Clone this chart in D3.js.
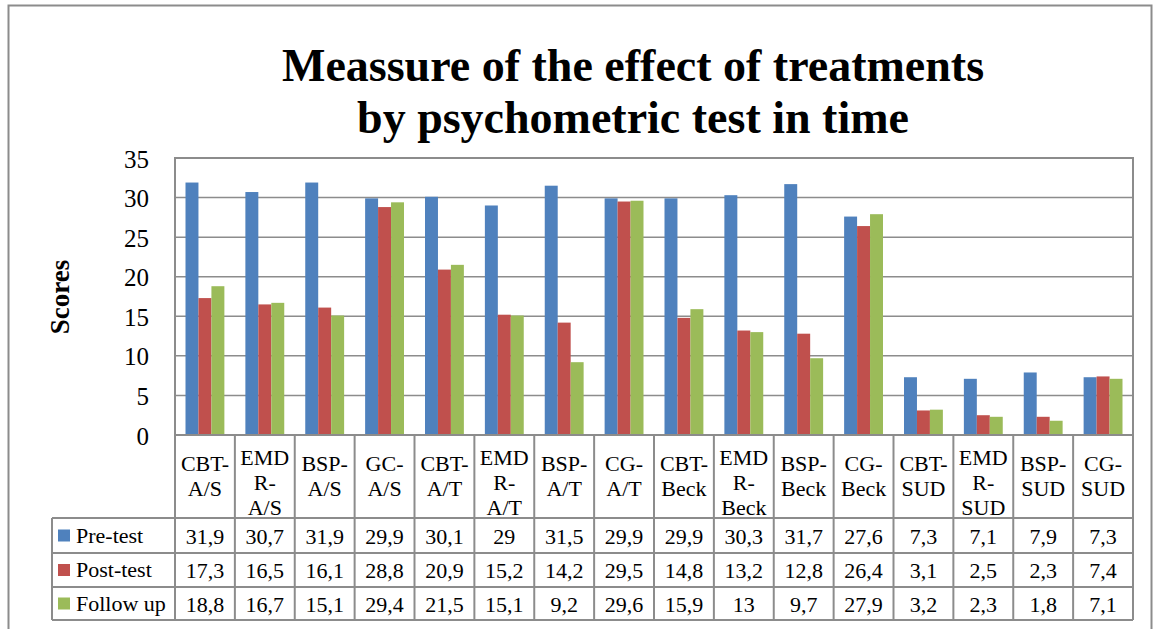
<!DOCTYPE html>
<html>
<head>
<meta charset="utf-8">
<script src="https://cdn.jsdelivr.net/npm/d3@7"></script>
<style>
  body { margin: 0; background: #fff; }
  svg { display: block; font-family: "Liberation Serif", "DejaVu Serif", serif; }
  .grid line { stroke: #8c8c8c; stroke-width: 1.5; }
  .tbl { stroke: #8c8c8c; stroke-width: 2; fill: none; }
</style>
</head>
<body>
<svg width="1155" height="629"></svg>
<script>
var categories = [
  ["CBT-", "A/S"], ["EMD", "R-", "A/S"], ["BSP-", "A/S"], ["GC-", "A/S"],
  ["CBT-", "A/T"], ["EMD", "R-", "A/T"], ["BSP-", "A/T"], ["CG-", "A/T"],
  ["CBT-", "Beck"], ["EMD", "R-", "Beck"], ["BSP-", "Beck"], ["CG-", "Beck"],
  ["CBT-", "SUD"], ["EMD", "R-", "SUD"], ["BSP-", "SUD"], ["CG-", "SUD"]
];
var seriesNames = ["Pre-test", "Post-test", "Follow up"];
var preTest = [31.9, 30.7, 31.9, 29.9, 30.1, 29, 31.5, 29.9, 29.9, 30.3, 31.7, 27.6, 7.3, 7.1, 7.9, 7.3];
var postTest = [17.3, 16.5, 16.1, 28.8, 20.9, 15.2, 14.2, 29.5, 14.8, 13.2, 12.8, 26.4, 3.1, 2.5, 2.3, 7.4];
var followUp = [18.8, 16.7, 15.1, 29.4, 21.5, 15.1, 9.2, 29.6, 15.9, 13, 9.7, 27.9, 3.2, 2.3, 1.8, 7.1];
var colors = ["#4f81bd", "#c0504d", "#9bbb59"];
var yTicks = [0, 5, 10, 15, 20, 25, 30, 35];

(function() {
var series = [preTest, postTest, followUp];
var keys = categories.map(function(c) { return c.join(""); });

var svg = d3.select("svg");
var left = 175, right = 1133, plotTop = 158, bottom = 435;
var rowTops = [518, 553, 587, 620];
var tableLeft = 52;

// outer border
svg.append("rect")
  .attr("x", 8.5).attr("y", 5.5)
  .attr("width", 1143).attr("height", 660)
  .attr("fill", "none").attr("stroke", "#8c8c8c").attr("stroke-width", 2);

// title
var title = svg.append("text")
  .attr("text-anchor", "middle")
  .attr("font-weight", "bold")
  .attr("font-size", 46);
title.append("tspan").attr("x", 633).attr("y", 81).text("Meassure of the effect of treatments");
title.append("tspan").attr("x", 633).attr("y", 133).text("by psychometric test in time");

var x0 = d3.scaleBand().domain(keys).range([left, right]);
var x1 = d3.scaleBand().domain(seriesNames).range([10.5, x0.bandwidth() - 10.5]);
var y = d3.scaleLinear().domain([0, 35]).range([bottom, plotTop]);

// gridlines
svg.append("g").attr("class", "grid")
  .selectAll("line").data(yTicks.slice(1))
  .enter().append("line")
  .attr("x1", left).attr("x2", right)
  .attr("y1", function(d) { return y(d); })
  .attr("y2", function(d) { return y(d); });

// y axis labels
var yAxis = d3.axisLeft(y).tickValues(yTicks).tickSize(0).tickPadding(26);
var ya = svg.append("g").attr("transform", "translate(" + left + ",0)").call(yAxis);
ya.select(".domain").remove();
ya.selectAll("text")
  .attr("font-family", "Liberation Serif, serif")
  .attr("font-size", 25)
  .attr("fill", "#000")
  .attr("dy", "0.36em");

svg.append("text")
  .attr("transform", "translate(69,297) rotate(-90)")
  .attr("text-anchor", "middle")
  .attr("font-weight", "bold")
  .attr("font-size", 27)
  .text("Scores");

// bars
var groups = svg.append("g").selectAll("g")
  .data(keys).enter().append("g")
  .attr("transform", function(d) { return "translate(" + x0(d) + ",0)"; });

groups.selectAll("rect")
  .data(function(d, i) {
    return seriesNames.map(function(s, j) { return { s: s, v: series[j][i], c: colors[j] }; });
  })
  .enter().append("rect")
  .attr("x", function(d) { return x1(d.s); })
  .attr("width", x1.bandwidth())
  .attr("y", function(d) { return y(d.v); })
  .attr("height", function(d) { return bottom - y(d.v); })
  .attr("fill", function(d) { return d.c; });

// plot border
svg.append("rect").attr("class", "tbl")
  .attr("x", left).attr("y", plotTop)
  .attr("width", right - left).attr("height", bottom - plotTop);

// table lines
var tbl = svg.append("g");
keys.forEach(function(k) {
  tbl.append("line").attr("class", "tbl")
    .attr("x1", x0(k) + x0.bandwidth()).attr("x2", x0(k) + x0.bandwidth())
    .attr("y1", bottom).attr("y2", rowTops[3]);
});
tbl.append("line").attr("class", "tbl")
  .attr("x1", left).attr("x2", left).attr("y1", bottom).attr("y2", rowTops[3]);
tbl.append("line").attr("class", "tbl")
  .attr("x1", tableLeft).attr("x2", tableLeft).attr("y1", rowTops[0]).attr("y2", rowTops[3]);
rowTops.forEach(function(ry) {
  tbl.append("line").attr("class", "tbl")
    .attr("x1", tableLeft).attr("x2", right).attr("y1", ry).attr("y2", ry);
});

// category labels
var lineH = 25;
groups.append("text")
  .attr("text-anchor", "middle")
  .attr("font-size", 22)
  .each(function(d, i) {
    var lines = categories[i];
    var t = d3.select(this);
    var mid = lines.length === 3 ? 483 : 476;
    var start = mid - (lines.length - 1) * lineH / 2 + 7;
    lines.forEach(function(l, j) {
      t.append("tspan").attr("x", x0.bandwidth() / 2).attr("y", start + j * lineH).text(l);
    });
  });

// table values
var fmt = function(v) { return String(v).replace(".", ","); };
series.forEach(function(vals, j) {
  var ry = (rowTops[j] + rowTops[j + 1]) / 2;
  groups.append("text")
    .attr("x", x0.bandwidth() / 2)
    .attr("y", ry + 8)
    .attr("text-anchor", "middle")
    .attr("font-size", 22)
    .text(function(d, i) { return fmt(vals[i]); });
  svg.append("rect")
    .attr("x", 58).attr("y", ry - 6)
    .attr("width", 12).attr("height", 12)
    .attr("fill", colors[j]);
  svg.append("text")
    .attr("x", 76).attr("y", ry + 7)
    .attr("font-size", 22)
    .text(seriesNames[j]);
});
})();
</script>
</body>
</html>
